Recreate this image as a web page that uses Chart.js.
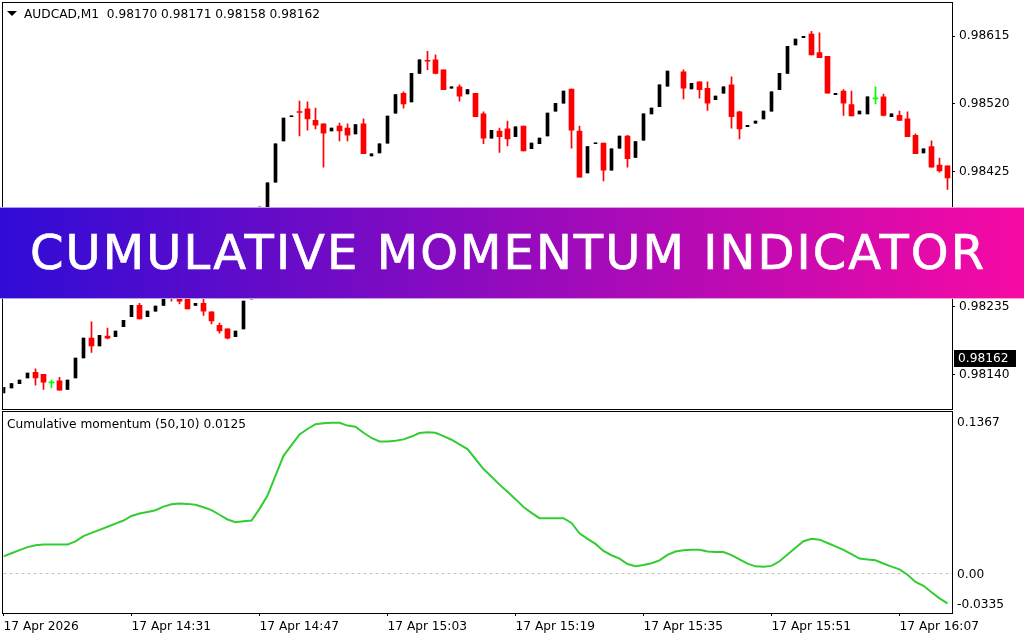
<!DOCTYPE html>
<html>
<head>
<meta charset="utf-8">
<script src="https://cdn.jsdelivr.net/npm/chart.js@4.4.1/dist/chart.umd.min.js"></script>
<style>
html,body{margin:0;padding:0;background:#fff;width:1024px;height:640px;overflow:hidden;position:relative;font-family:'DejaVu Sans',sans-serif;}
canvas{position:absolute;left:0;}
#main{top:0;}
#ind{top:410px;}
.lbl{position:absolute;font-size:12.2px;line-height:14px;color:#000;white-space:pre;font-family:'DejaVu Sans',sans-serif;}
#tri{position:absolute;left:7px;top:11px;width:0;height:0;border-left:5px solid transparent;border-right:5px solid transparent;border-top:5px solid #000;}
#banner{position:absolute;left:0;top:207px;width:1024px;height:90px;background:linear-gradient(90deg,#300cd6 0%,#f70aa4 100%);border-top:1px solid rgba(255,255,255,0.6);border-bottom:1px solid rgba(255,255,255,0.6);}
#bannerText{position:absolute;left:30px;top:20px;font-family:'DejaVu Sans',sans-serif;font-size:48px;line-height:48px;color:#fff;white-space:pre;-webkit-text-stroke:0.7px #fff;}
</style>
</head>
<body>
<canvas id="main" width="1024" height="410"></canvas>
<canvas id="ind" width="1024" height="230"></canvas>
<div id="tri"></div>
<div class="lbl" id="hdr" style="left:24px;top:7px;"></div>
<div class="lbl" id="indName" style="left:7px;top:417px;"></div>
<div id="banner"><span id="bannerText">CUMULATIVE MOMENTUM INDICATOR</span></div>
<script>
// ---------------- DATA ----------------
const symbol = "AUDCAD,M1";
const headerOHLC = [0.98170, 0.98171, 0.98158, 0.98162];
const indicatorName = "Cumulative momentum (50,10)";
const indicatorValue = 0.0125;
const bannerTitle = "CUMULATIVE MOMENTUM INDICATOR";

const timeTickLabels = ["17 Apr 2026","17 Apr 14:31","17 Apr 14:47","17 Apr 15:03","17 Apr 15:19","17 Apr 15:35","17 Apr 15:51","17 Apr 16:07"];
const barsPerTimeTick = 16;

const priceTicks = [0.98140, 0.98235, 0.98330, 0.98425, 0.98520, 0.98615];
const priceMin = 0.980914, priceMax = 0.986618;

const indTickValues = [0.1367, 0, -0.0335];
const indTickLabels = ["0.1367", "0.00", "-0.0335"];

const open = [0.98114,0.98121,0.98127,0.98135,0.98143,0.98140,0.98128,0.98131,0.98119,0.98135,
0.98163,0.98191,0.98180,0.98194,0.98193,0.98207,0.98221,0.98237,0.98221,0.98229,
0.98237,0.98252,0.98254,0.98250,0.98237,0.98240,0.98228,0.98209,0.98204,0.98193,
0.98204,0.98246,0.98249,0.98374,0.98410,0.98468,0.98502,0.98509,0.98513,0.98497,
0.98492,0.98482,0.98489,0.98486,0.98478,0.98492,0.98447,0.98451,0.98465,0.98507,
0.98535,0.98523,0.98563,0.98581,0.98582,0.98568,0.98542,0.98544,0.98534,0.98535,
0.98506,0.98472,0.98482,0.98485,0.98474,0.98489,0.98457,0.98464,0.98475,0.98510,
0.98521,0.98541,0.98482,0.98423,0.98464,0.98465,0.98427,0.98458,0.98475,0.98445,
0.98469,0.98506,0.98516,0.98545,null,0.98565,0.98541,0.98551,0.98542,0.98526,
0.98535,0.98547,0.98509,0.98488,0.98493,0.98499,0.98510,0.98540,0.98563,0.98603,
0.98613,0.98618,0.98592,0.98587,0.98533,0.98538,0.98519,0.98506,0.98506,0.98527,
0.98530,0.98502,0.98504,0.98499,0.98476,0.98451,0.98460,0.98434,0.98433];

const high = [0.98122,0.98127,0.98132,0.98142,0.98148,0.98140,0.98132,0.98136,0.98132,0.98163,
0.98191,0.98214,0.98195,0.98205,0.98201,0.98216,0.98237,0.98240,0.98229,0.98236,
0.98254,0.98258,0.98259,0.98256,0.98240,0.98246,0.98228,0.98212,0.98204,0.98201,
0.98243,0.98253,0.98375,0.98409,0.98464,0.98500,0.98503,0.98524,0.98523,0.98514,
0.98492,0.98486,0.98493,0.98492,0.98491,0.98499,0.98450,0.98464,0.98503,0.98533,
0.98537,0.98563,0.98582,0.98594,0.98589,0.98568,0.98544,0.98547,0.98540,0.98535,
0.98509,0.98483,0.98486,0.98496,0.98488,0.98489,0.98465,0.98472,0.98507,0.98521,
0.98538,0.98541,0.98489,0.98460,0.98465,0.98465,0.98457,0.98475,0.98476,0.98467,
0.98506,0.98514,0.98547,0.98566,null,0.98568,0.98549,0.98551,0.98551,0.98531,
0.98544,0.98558,0.98510,0.98490,0.98496,0.98510,0.98537,0.98563,0.98601,0.98611,
0.98615,0.98622,0.98620,0.98587,0.98535,0.98540,0.98538,0.98510,0.98530,0.98544,
0.98534,0.98506,0.98510,0.98509,0.98478,0.98457,0.98468,0.98444,0.98433];

const low = [0.98114,0.98121,0.98127,0.98135,0.98125,0.98119,0.98121,0.98118,0.98119,0.98135,
0.98163,0.98171,0.98180,0.98190,0.98193,0.98207,0.98221,0.98218,0.98221,0.98229,
0.98237,0.98243,0.98239,0.98232,0.98237,0.98223,0.98211,0.98198,0.98190,0.98193,
0.98204,0.98246,0.98249,0.98374,0.98410,0.98468,0.98502,0.98475,0.98483,0.98485,
0.98431,0.98482,0.98468,0.98468,0.98478,0.98450,0.98447,0.98451,0.98465,0.98507,
0.98514,0.98523,0.98563,0.98568,0.98562,0.98540,0.98542,0.98524,0.98534,0.98502,
0.98464,0.98472,0.98452,0.98461,0.98474,0.98454,0.98457,0.98464,0.98475,0.98510,
0.98521,0.98458,0.98417,0.98423,0.98464,0.98412,0.98427,0.98458,0.98431,0.98445,
0.98469,0.98506,0.98516,0.98545,null,0.98527,0.98541,0.98528,0.98511,0.98526,
0.98535,0.98486,0.98471,0.98488,0.98493,0.98499,0.98510,0.98540,0.98563,0.98603,
0.98613,0.98589,0.98585,0.98535,0.98533,0.98504,0.98503,0.98506,0.98506,0.98520,
0.98503,0.98502,0.98497,0.98474,0.98450,0.98451,0.98431,0.98424,0.98400];

const close = [0.98122,0.98127,0.98132,0.98142,0.98135,0.98129,0.98128,0.98118,0.98132,0.98163,
0.98191,0.98180,0.98195,0.98191,0.98201,0.98216,0.98237,0.98218,0.98229,0.98236,
0.98254,0.98248,0.98243,0.98232,0.98240,0.98229,0.98215,0.98201,0.98191,0.98201,
0.98243,0.98253,0.98375,0.98409,0.98464,0.98500,0.98503,0.98508,0.98499,0.98490,
0.98479,0.98486,0.98482,0.98476,0.98491,0.98450,0.98450,0.98464,0.98503,0.98533,
0.98520,0.98563,0.98582,0.98580,0.98563,0.98540,0.98544,0.98531,0.98540,0.98502,
0.98472,0.98483,0.98474,0.98471,0.98488,0.98454,0.98465,0.98472,0.98507,0.98521,
0.98538,0.98483,0.98417,0.98460,0.98465,0.98427,0.98457,0.98475,0.98443,0.98467,
0.98506,0.98514,0.98547,0.98566,null,0.98542,0.98549,0.98540,0.98521,0.98531,
0.98544,0.98502,0.98485,0.98490,0.98496,0.98510,0.98537,0.98563,0.98601,0.98611,
0.98615,0.98589,0.98585,0.98535,0.98535,0.98521,0.98503,0.98510,0.98530,0.98527,
0.98504,0.98506,0.98497,0.98474,0.98450,0.98457,0.98431,0.98426,0.98416];

const cumMomentum = [0.0145,0.0171,0.0197,0.0223,0.0239,0.0244,0.0244,0.0244,0.0244,0.0271,
0.0316,0.0343,0.0369,0.0395,0.0422,0.0448,0.0487,0.0507,0.0521,0.0535,
0.0566,0.0586,0.0593,0.0589,0.0581,0.0560,0.0536,0.0497,0.0457,0.0434,
0.0441,0.0448,0.0547,0.0659,0.0828,0.0996,0.1087,0.1177,0.1223,0.1264,
0.1272,0.1277,0.1276,0.1252,0.1243,0.1191,0.1147,0.1117,0.1117,0.1124,
0.1135,0.1159,0.1189,0.1196,0.1191,0.1163,0.1132,0.1093,0.1053,0.0969,
0.0884,0.0818,0.0752,0.0691,0.0629,0.0563,0.0513,0.0468,0.0468,0.0468,
0.0468,0.0427,0.0340,0.0293,0.0250,0.0191,0.0154,0.0126,0.0080,0.0061,
0.0072,0.0087,0.0111,0.0157,0.0185,0.0197,0.0201,0.0200,0.0185,0.0181,
0.0181,0.0155,0.0120,0.0083,0.0060,0.0056,0.0064,0.0103,0.0160,0.0217,
0.0273,0.0293,0.0286,0.0258,0.0229,0.0200,0.0163,0.0126,0.0119,0.0111,
0.0084,0.0058,0.0035,-0.0011,-0.0072,-0.0105,-0.0159,-0.0211,-0.0254];

// ---------------- STYLE ----------------
const FONT = 'DejaVu Sans';
const FS = 12.2;
const BULL = '#000000', BEAR = '#ff0000', DOJI = '#00ff00';
const LINE = '#32cd32';
const xMax = 118.5625;

Chart.defaults.font.family = FONT;
Chart.defaults.font.size = FS;
Chart.defaults.color = '#000';

document.getElementById('hdr').textContent = symbol + '  ' + headerOHLC.map(v => v.toFixed(5)).join(' ');
document.getElementById('indName').textContent = indicatorName + ' ' + indicatorValue.toFixed(4);
document.getElementById('bannerText').textContent = bannerTitle;

(function(){
  const s = document.getElementById('bannerText');
  s.style.letterSpacing = '0px';
  const w = s.getBoundingClientRect().width;
  const n = bannerTitle.length;
  const ls = (954 - w) / (n - 1);
  s.style.letterSpacing = ls + 'px';
})();

const colorOf = i => close[i] > open[i] ? BULL : (close[i] < open[i] ? BEAR : DOJI);
const idx = open.map((_, i) => i).filter(i => open[i] !== null);
const wickData = idx.map(i => ({x: i, y: [low[i], high[i]]}));
const bullData = idx.filter(i => close[i] > open[i]).map(i => ({x: i, y: [open[i], close[i]]}));
const bearData = idx.filter(i => close[i] < open[i]).map(i => ({x: i, y: [open[i], close[i]]}));
const dojiData = idx.filter(i => close[i] === open[i]).map(i => ({x: i, y: [open[i], close[i]]}));

const framePlugin = {
  id: 'frame',
  afterDraw(chart) {
    const {ctx, chartArea: a} = chart;
    const l = Math.floor(a.left) - 1, r = Math.round(a.right), t = Math.round(a.top) - 1, b = Math.round(a.bottom);
    ctx.save();
    ctx.fillStyle = '#000';
    ctx.fillRect(l, t, r - l + 1, 1);
    ctx.fillRect(l, b, r - l + 1, 1);
    ctx.fillRect(l, t, 1, b - t + 1);
    ctx.fillRect(r, t, 1, b - t + 1);
    ctx.restore();
  }
};

const priceTagPlugin = {
  id: 'priceTag',
  afterDraw(chart) {
    const {ctx, chartArea: a} = chart;
    const last = headerOHLC[3];
    const y = chart.scales.y.getPixelForValue(last);
    ctx.save();
    ctx.fillStyle = '#000';
    ctx.fillRect(Math.round(a.right) + 2, Math.round(y) - 9, 62, 17);
    ctx.fillStyle = '#fff';
    ctx.font = FS + 'px "' + FONT + '"';
    ctx.textBaseline = 'middle';
    ctx.textAlign = 'left';
    ctx.fillText(last.toFixed(5), Math.round(a.right) + 6, y);
    ctx.restore();
  }
};

const noPad = s => { s.paddingTop = 0; s.paddingBottom = 0; s.paddingLeft = 0; s.paddingRight = 0; };

new Chart(document.getElementById('main'), {
  type: 'bar',
  data: {
    datasets: [
      {data: bullData, backgroundColor: BULL, barThickness: 3, grouped: false, minBarLength: 1, order: 1, borderWidth: 0},
      {data: bearData, backgroundColor: BEAR, barThickness: 5, grouped: false, minBarLength: 1, order: 1, borderWidth: 0},
      {data: dojiData, backgroundColor: ctx => colorOf(ctx.raw.x), barThickness: 5, grouped: false, minBarLength: 1, order: 1, borderWidth: 0},
      {data: wickData, backgroundColor: ctx => colorOf(ctx.raw.x), barThickness: 1, grouped: false, order: 2, borderWidth: 0}
    ]
  },
  options: {
    responsive: false, animation: false, devicePixelRatio: 1,
    layout: {padding: {left: 3.5, top: 3, right: 0, bottom: 1}},
    plugins: {legend: {display: false}, tooltip: {enabled: false}},
    scales: {
      x: {type: 'linear', min: 0, max: xMax, offset: false, display: false, grid: {offset: false}},
      y: {
        position: 'right', min: priceMin, max: priceMax,
        afterBuildTicks: s => { s.ticks = priceTicks.map(v => ({value: v})); },
        afterFit: s => { s.width = 72; noPad(s); },
        grid: {drawOnChartArea: false, drawTicks: true, tickLength: 3, tickColor: '#000', color: '#000'},
        border: {display: false},
        ticks: {padding: 4, color: '#000', font: {family: FONT, size: FS}, autoSkip: false, callback: v => Number(v).toFixed(5)}
      }
    }
  },
  plugins: [framePlugin, priceTagPlugin]
});

const indPlugin = {
  id: 'indDecor',
  beforeDatasetsDraw(chart) {
    const {ctx, chartArea: a} = chart;
    const y = Math.round(chart.scales.y.getPixelForValue(0)) + 0.5;
    ctx.save();
    ctx.strokeStyle = '#c0c0c0';
    ctx.lineWidth = 1;
    ctx.setLineDash([3, 3]);
    ctx.beginPath();
    ctx.moveTo(a.left, y);
    ctx.lineTo(a.right, y);
    ctx.stroke();
    ctx.restore();
  },
  afterDraw(chart) {
    const {ctx, chartArea: a} = chart;
    const s = chart.scales.y;
    ctx.save();
    ctx.fillStyle = '#000';
    ctx.font = FS + 'px "' + FONT + '"';
    ctx.textBaseline = 'middle';
    ctx.textAlign = 'left';
    indTickValues.forEach((v, k) => {
      let y = s.getPixelForValue(v) + 1;
      y = Math.min(Math.max(y, a.top + 11), a.bottom - 8);
      ctx.fillText(indTickLabels[k], Math.round(a.right) + 5, y);
    });
    ctx.restore();
  }
};

new Chart(document.getElementById('ind'), {
  type: 'line',
  data: {
    datasets: [{
      data: cumMomentum.map((v, i) => ({x: i, y: v})),
      borderColor: LINE, borderWidth: 2, pointRadius: 0, tension: 0, fill: false
    }]
  },
  options: {
    responsive: false, animation: false, devicePixelRatio: 1,
    layout: {padding: {left: 3.5, top: 2, right: 0, bottom: 0}},
    plugins: {legend: {display: false}, tooltip: {enabled: false}},
    scales: {
      x: {
        type: 'linear', min: 0, max: xMax, position: 'bottom', offset: false,
        afterBuildTicks: s => { s.ticks = timeTickLabels.map((_, k) => ({value: k * barsPerTimeTick})); },
        afterFit: s => { s.height = 27; noPad(s); },
        grid: {drawOnChartArea: false, drawTicks: true, tickLength: 3, tickColor: '#000', color: '#000'},
        border: {display: false},
        ticks: {align: 'start', padding: 4, maxRotation: 0, autoSkip: false, color: '#000', font: {family: FONT, size: FS},
          callback: v => timeTickLabels[Math.round(v / barsPerTimeTick)]}
      },
      y: {
        position: 'right', min: indTickValues[2], max: indTickValues[0],
        afterFit: s => { s.width = 72; noPad(s); },
        grid: {display: false},
        border: {display: false},
        ticks: {display: false}
      }
    }
  },
  plugins: [framePlugin, indPlugin]
});
</script>
</body>
</html>
